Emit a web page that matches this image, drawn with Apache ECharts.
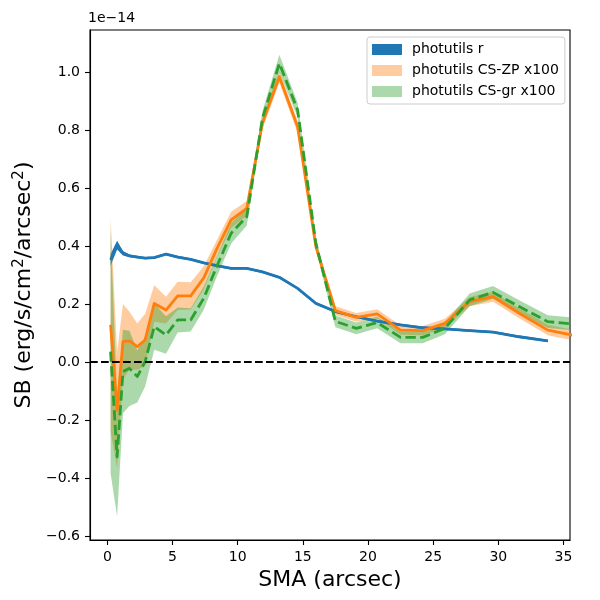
<!DOCTYPE html>
<html>
<head>
<meta charset="utf-8">
<script src="https://cdn.jsdelivr.net/npm/echarts@6/dist/echarts.min.js"></script>
<style>
html, body { margin: 0; padding: 0; background: #fff; }
#chart { width: 600px; height: 600px; }
</style>
</head>
<body>
<div id="chart"></div>
<script>
// SMA 采样点 (arcsec)
const smaR = [0.25, 0.75, 1.2, 1.7, 2.3, 2.9, 3.6, 4.5, 5.4, 6.4, 7.4, 8.4, 9.5, 10.7, 11.9, 13.2,
    14.6, 16.0, 17.5, 19.1, 20.7, 22.5, 24.2, 25.9, 27.8, 29.6, 31.6, 33.8];
const smaCs = [0.25, 0.75, 1.2, 1.7, 2.3, 2.9, 3.6, 4.5, 5.4, 6.4, 7.4, 8.4, 9.5, 10.7, 11.9, 13.2,
    14.6, 16.0, 17.5, 19.1, 20.7, 22.5, 24.2, 25.9, 27.8, 29.6, 31.6, 33.8, 36.0];

// photutils r (单位 1e-14)
const sbR = [0.352, 0.403, 0.375, 0.366, 0.362, 0.358, 0.360, 0.372, 0.362, 0.354, 0.342, 0.332,
    0.323, 0.323, 0.311, 0.292, 0.254, 0.202, 0.174, 0.156, 0.141, 0.128, 0.118, 0.114, 0.108,
    0.103, 0.087, 0.073];
const sbRErr = [0.02, 0.015, 0.008, 0.005, 0.004, 0.004, 0.004, 0.004, 0.004, 0.004, 0.004, 0.004,
    0.004, 0.004, 0.004, 0.004, 0.004, 0.004, 0.004, 0.004, 0.004, 0.004, 0.004, 0.004, 0.004,
    0.004, 0.004, 0.004];

// photutils CS-ZP x100
const sbZp = [0.128, -0.166, 0.07, 0.073, 0.053, 0.076, 0.202, 0.179, 0.228, 0.228, 0.29, 0.39,
    0.49, 0.53, 0.823, 0.984, 0.811, 0.398, 0.177, 0.154, 0.166, 0.110, 0.108, 0.133, 0.208,
    0.225, 0.168, 0.110, 0.09];
const sbZpErr = [0.37, 0.2, 0.13, 0.10, 0.08, 0.09, 0.063, 0.046, 0.049, 0.047, 0.04, 0.03,
    0.028, 0.025, 0.02, 0.02, 0.02, 0.015, 0.015, 0.015, 0.016, 0.016, 0.016, 0.016, 0.016,
    0.017, 0.017, 0.018, 0.018];

// photutils CS-gr x100
const sbGr = [0.036, -0.327, -0.033, -0.022, -0.05, 0.001, 0.122, 0.093, 0.145, 0.145, 0.22, 0.33,
    0.444, 0.501, 0.84, 1.03, 0.869, 0.409, 0.14, 0.116, 0.136, 0.085, 0.085, 0.116, 0.214,
    0.240, 0.191, 0.139, 0.13];
const sbGrErr = [0.42, 0.206, 0.144, 0.13, 0.09, 0.086, 0.08, 0.065, 0.043, 0.04, 0.04, 0.035,
    0.035, 0.03, 0.025, 0.03, 0.025, 0.02, 0.02, 0.02, 0.02, 0.02, 0.02, 0.02, 0.022,
    0.022, 0.022, 0.022, 0.022];

// 刻度
const xTicks = [0, 5, 10, 15, 20, 25, 30, 35];
const yTicks = [-0.6, -0.4, -0.2, 0.0, 0.2, 0.4, 0.6, 0.8, 1.0];

const FONT = 'DejaVu Sans';
const BLUE = '#1f77b4';
const ORANGE = '#ff7f0e';
const GREEN = '#2ca02c';

// 误差带 (fill_between)
function band (name, xs, mid, err, color) {
    return {
        name: name,
        type: 'custom',
        clip: true,
        silent: true,
        itemStyle: { color: color },
        data: xs.map((x, i) => [x, mid[i] - err[i], mid[i] + err[i]]),
        encode: { x: 0, y: [1, 2] },
        renderItem (params, api) {
            if (params.dataIndex !== 0) {
                return null;
            }
            let upper = xs.map((x, i) => api.coord([x, mid[i] + err[i]]));
            let lower = xs.map((x, i) => api.coord([x, mid[i] - err[i]])).reverse();
            return {
                type: 'polygon',
                shape: { points: upper.concat(lower) },
                style: { fill: color, stroke: null }
            };
        }
    };
}

function line (xs, ys, color, width, type) {
    return {
        type: 'line',
        silent: true,
        symbol: 'none',
        clip: true,
        data: xs.map((x, i) => [x, ys[i]]),
        lineStyle: { color: color, width: width, type: type || 'solid', cap: 'butt', join: 'round' }
    };
}

const axisCommon = {
    axisLine: { show: true, onZero: false, lineStyle: { color: '#000', width: 1.1 } },
    axisTick: { show: true, inside: false, length: 5, lineStyle: { color: '#000', width: 1.1 } },
    splitLine: { show: false },
    nameTextStyle: { fontFamily: FONT, fontSize: 22, color: '#000' }
};

const chart = echarts.init(document.getElementById('chart'), null, { renderer: 'canvas' });

let greenLine = line(smaCs, sbGr, GREEN, 2.8, [10.3, 4.4]);
greenLine.markLine = {
    silent: true,
    symbol: 'none',
    label: { show: false },
    lineStyle: { color: '#000', width: 2, type: [7.7, 3.3] },
    data: [{ yAxis: 0 }]
};

chart.setOption({
    animation: false,
    backgroundColor: '#fff',
    title: {
        text: '1e\u221214',
        left: 88,
        top: 11,
        padding: 0,
        textStyle: { fontFamily: FONT, fontSize: 14, fontWeight: 'normal', color: '#000' }
    },
    grid: { left: 90, right: 30, top: 30, bottom: 60, show: true, borderColor: '#000', borderWidth: 1.1 },
    legend: {
        orient: 'vertical',
        left: 367,
        top: 37,
        padding: [5, 6, 5, 5],
        itemWidth: 30,
        itemHeight: 11,
        itemGap: 6,
        backgroundColor: 'rgba(255,255,255,0.8)',
        borderColor: '#cccccc',
        borderWidth: 1,
        borderRadius: 3,
        selectedMode: false,
        textStyle: { fontFamily: FONT, fontSize: 14, color: '#000', lineHeight: 15, padding: [0, 0, 0, 5] },
        data: [
            { name: 'photutils r', icon: 'rect', itemStyle: { color: BLUE, borderWidth: 0 } },
            { name: 'photutils CS-ZP x100', icon: 'rect', itemStyle: { color: 'rgba(255,127,14,0.4)', borderWidth: 0 } },
            { name: 'photutils CS-gr x100', icon: 'rect', itemStyle: { color: 'rgba(44,160,44,0.4)', borderWidth: 0 } }
        ]
    },
    xAxis: Object.assign({}, axisCommon, {
        type: 'value',
        min: -1.33,
        max: 35.5,
        name: 'SMA (arcsec)',
        nameLocation: 'middle',
        nameGap: 29,
        axisTick: Object.assign({}, axisCommon.axisTick, { customValues: xTicks }),
        axisLabel: {
            customValues: xTicks,
            margin: 10,
            fontFamily: FONT,
            fontSize: 14,
            color: '#000'
        }
    }),
    yAxis: Object.assign({}, axisCommon, {
        type: 'value',
        min: -0.614,
        max: 1.145,
        name: 'SB (erg/s/cm{sup|2}/arcsec{sup|2})',
        nameLocation: 'middle',
        nameRotate: 90,
        nameGap: 52,
        nameTextStyle: {
            fontFamily: FONT,
            fontSize: 22,
            color: '#000',
            rich: {
                sup: { fontFamily: FONT, fontSize: 15, color: '#000', verticalAlign: 'bottom', padding: [0, 0, 9, 0] }
            }
        },
        axisTick: Object.assign({}, axisCommon.axisTick, { customValues: yTicks }),
        axisLabel: {
            customValues: yTicks,
            margin: 10,
            fontFamily: FONT,
            fontSize: 14,
            color: '#000',
            formatter: v => v.toFixed(1).replace('-', '\u2212')
        }
    }),
    series: [
        band('photutils r', smaR, sbR, sbRErr, BLUE),
        line(smaR, sbR, BLUE, 2.8),
        band('photutils CS-ZP x100', smaCs, sbZp, sbZpErr, 'rgba(255,127,14,0.4)'),
        line(smaCs, sbZp, ORANGE, 2.8),
        band('photutils CS-gr x100', smaCs, sbGr, sbGrErr, 'rgba(44,160,44,0.4)'),
        greenLine
    ]
});

window.addEventListener('resize', () => chart.resize());
</script>
</body>
</html>
